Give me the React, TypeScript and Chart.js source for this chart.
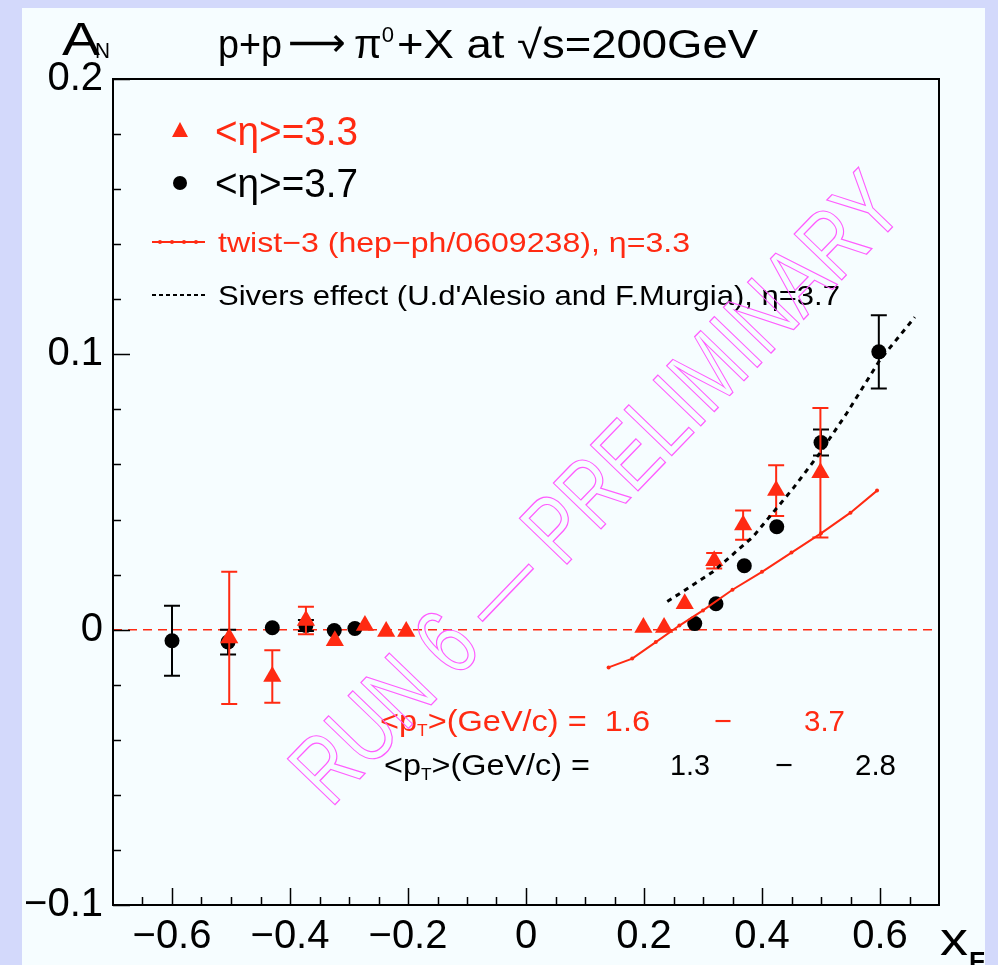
import React, { useEffect, useRef } from 'react';
import { Chart, registerables } from 'chart.js';

Chart.register(...registerables);

// ---------- data ----------
// <eta> = 3.3 (red triangles)
const triX = [-0.503, -0.43, -0.373, -0.324, -0.273, -0.237, -0.203, 0.199, 0.234, 0.269, 0.319, 0.368, 0.424, 0.499];
const triY = [-0.003, -0.017, 0.0033, -0.004, 0.0015, -0.0007, -0.0007, 0.0008, 0.0008, 0.0094, 0.025, 0.038, 0.0505, 0.057];
const triErr = [0.024, 0.0095, 0.005, 0, 0, 0, 0, 0, 0, 0, 0.0028, 0.0053, 0.0092, 0.0235];

// <eta> = 3.7 (black circles)
const circX = [-0.6, -0.505, -0.43, -0.373, -0.325, -0.29, 0.286, 0.322, 0.37, 0.425, 0.5, 0.598];
const circY = [-0.004, -0.0045, 0.0007, 0.0015, -0.0003, 0.0004, 0.0022, 0.0094, 0.0232, 0.0374, 0.068, 0.1009];
const circErr = [0.0127, 0.0045, 0, 0.002, 0, 0, 0, 0, 0, 0, 0.0047, 0.0133];

// twist-3 curve (hep-ph/0609238), eta = 3.3
const twistX = [0.14, 0.18, 0.22, 0.26, 0.3, 0.35, 0.4, 0.45, 0.5, 0.55, 0.595];
const twistY = [-0.0137, -0.0105, -0.0045, 0.0015, 0.007, 0.0145, 0.021, 0.028, 0.035, 0.0425, 0.0505];

// Sivers effect curve, eta = 3.7
const siversX = [0.2395, 0.3175, 0.385, 0.453, 0.498, 0.5436, 0.6, 0.659];
const siversY = [0.0102, 0.0211, 0.0338, 0.0514, 0.0641, 0.0786, 0.098, 0.1135];

// zero reference line
const zeroX = [-0.7, 0.7];
const zeroY = [0, 0];

// axis ticks
const xTickValues = [-0.6, -0.4, -0.2, 0, 0.2, 0.4, 0.6];
const xTickLabels = ['\u22120.6', '\u22120.4', '\u22120.2', '0', '0.2', '0.4', '0.6'];
const yTickValues = [-0.1, 0, 0.1, 0.2];
const yTickLabels = ['\u22120.1', '0', '0.1', '0.2'];

// ---------- styles ----------
const RED = '#ff2a12';
const MAGENTA = '#ff5cff';
const FAMILY = '"Liberation Sans", Arial, Helvetica, sans-serif';

type Part = { s: string; size: number; dy?: number; bold?: boolean; family?: string };

function rich(ctx: CanvasRenderingContext2D, parts: Part[], x: number, y: number, color: string, target?: number) {
  ctx.save();
  ctx.fillStyle = color;
  ctx.textBaseline = 'alphabetic';
  ctx.textAlign = 'left';
  let total = 0;
  const fontOf = (p: Part) => `${p.bold ? 'bold ' : ''}${p.size}px ${p.family || FAMILY}`;
  const widths = parts.map((p) => {
    ctx.font = fontOf(p);
    const w = ctx.measureText(p.s).width;
    total += w;
    return w;
  });
  const sx = target ? target / total : 1;
  ctx.translate(x, y);
  ctx.scale(sx, 1);
  let cx = 0;
  parts.forEach((p, i) => {
    ctx.font = fontOf(p);
    ctx.fillText(p.s, cx, p.dy || 0);
    cx += widths[i];
  });
  ctx.restore();
}

const bgPlugin = {
  id: 'bgPanel',
  beforeDraw(chart: any) {
    const ctx = chart.ctx;
    ctx.save();
    ctx.fillStyle = '#d3d9fb';
    ctx.fillRect(0, 0, chart.width, chart.height);
    ctx.fillStyle = '#f6fdff';
    ctx.fillRect(22, 8, 963, chart.height - 8);
    ctx.restore();
  },
};

const errPlugin = {
  id: 'errBars',
  beforeDatasetDraw(chart: any, args: any) {
    const ds = chart.data.datasets[args.index];
    if (!ds.yErr) return;
    const ctx = chart.ctx;
    const xs = chart.scales.x;
    const ys = chart.scales.y;
    ctx.save();
    ctx.strokeStyle = ds.errColor;
    ctx.lineWidth = 2;
    ds.data.forEach((p: any, i: number) => {
      const e = ds.yErr[i];
      if (!e) return;
      const px = xs.getPixelForValue(p.x);
      const top = ys.getPixelForValue(p.y + e);
      const bot = ys.getPixelForValue(p.y - e);
      ctx.beginPath();
      ctx.moveTo(px, top);
      ctx.lineTo(px, bot);
      ctx.moveTo(px - 8, top);
      ctx.lineTo(px + 8, top);
      ctx.moveTo(px - 8, bot);
      ctx.lineTo(px + 8, bot);
      ctx.stroke();
    });
    ctx.restore();
  },
};

const framePlugin = {
  id: 'frameTicks',
  afterDatasetsDraw(chart: any) {
    const ctx = chart.ctx;
    const { left, right, top, bottom } = chart.chartArea;
    const xs = chart.scales.x;
    const ys = chart.scales.y;
    ctx.save();
    ctx.strokeStyle = '#000';
    ctx.lineWidth = 2;
    ctx.strokeRect(left, top, right - left, bottom - top);
    ctx.lineWidth = 1.5;
    ctx.beginPath();
    for (let k = -13; k <= 13; k++) {
      const v = k * 0.05;
      const px = Math.round(xs.getPixelForValue(v)) + 0.5;
      const major = k % 4 === 0;
      const len = major ? 17 : 8;
      ctx.moveTo(px, bottom);
      ctx.lineTo(px, bottom - len);
    }
    for (let k = -5; k <= 10; k++) {
      const v = k * 0.02;
      const py = Math.round(ys.getPixelForValue(v)) + 0.5;
      const major = k % 5 === 0;
      const len = major ? 17 : 8;
      ctx.moveTo(left, py);
      ctx.lineTo(left + len, py);
    }
    ctx.stroke();
    ctx.restore();
  },
};

const textPlugin = {
  id: 'texts',
  afterDraw(chart: any) {
    const ctx: CanvasRenderingContext2D = chart.ctx;
    // title
    rich(ctx, [{ s: 'p+p', size: 40 }], 218, 58, '#000', 64);
    rich(ctx, [{ s: '\u27f6', size: 40, family: '"DejaVu Sans", sans-serif' }], 288, 56, '#000', 58);
    rich(ctx, [{ s: '\u03c0', size: 40 }, { s: '0', size: 22, dy: -16 }], 354, 58, '#000', 40);
    rich(ctx, [{ s: '+X at \u221as=200GeV', size: 40 }], 397, 58, '#000', 361);
    // A_N
    rich(ctx, [{ s: 'A', size: 46 }], 62, 55, '#000', 38);
    rich(ctx, [{ s: 'N', size: 22 }], 95, 58, '#000', 15);
    // x_F
    rich(ctx, [{ s: 'x', size: 46 }], 940, 955, '#000', 28);
    rich(ctx, [{ s: 'F', size: 26, bold: true }], 969, 970, '#000', 16);

    // legend
    ctx.save();
    ctx.fillStyle = RED;
    ctx.beginPath();
    ctx.moveTo(180, 122);
    ctx.lineTo(188, 137);
    ctx.lineTo(172, 137);
    ctx.closePath();
    ctx.fill();
    ctx.fillStyle = '#000';
    ctx.beginPath();
    ctx.arc(180, 183, 7, 0, Math.PI * 2);
    ctx.fill();
    ctx.strokeStyle = RED;
    ctx.lineWidth = 2;
    ctx.beginPath();
    ctx.moveTo(152, 242);
    ctx.lineTo(205, 242);
    ctx.stroke();
    ctx.fillStyle = RED;
    [160, 172, 184, 196].forEach((x) => { ctx.beginPath(); ctx.arc(x, 242, 2, 0, Math.PI * 2); ctx.fill(); });
    ctx.strokeStyle = '#000';
    ctx.setLineDash([4, 3]);
    ctx.beginPath();
    ctx.moveTo(152, 295);
    ctx.lineTo(205, 295);
    ctx.stroke();
    ctx.restore();

    rich(ctx, [{ s: '<\u03b7>=3.3', size: 40 }], 215, 145, RED, 143);
    rich(ctx, [{ s: '<\u03b7>=3.7', size: 40 }], 215, 197, '#000', 143);
    rich(ctx, [{ s: 'twist\u22123 (hep\u2212ph/0609238), \u03b7=3.3', size: 28 }], 218, 252, RED, 472);
    rich(ctx, [{ s: "Sivers effect (U.d'Alesio and F.Murgia), \u03b7=3.7", size: 28 }], 218, 305, '#000', 622);

    // pT ranges
    rich(ctx, [
      { s: '<p', size: 30 },
      { s: 'T', size: 16, dy: 5 },
      { s: '>(GeV/c) =  1.6', size: 30 },
    ], 380, 731, RED, 270);
    rich(ctx, [{ s: '\u2212', size: 30 }], 714, 731, RED, 18);
    rich(ctx, [{ s: '3.7', size: 30 }], 804, 731, RED, 41);
    rich(ctx, [
      { s: '<p', size: 30 },
      { s: 'T', size: 16, dy: 5 },
      { s: '>(GeV/c) =', size: 30 },
    ], 384, 775, '#000', 206);
    rich(ctx, [{ s: '1.3', size: 30 }], 670, 775, '#000', 40);
    rich(ctx, [{ s: '\u2212', size: 30 }], 775, 775, '#000', 18);
    rich(ctx, [{ s: '2.8', size: 30 }], 855, 775, '#000', 41);

    // watermark
    ctx.save();
    ctx.translate(600, 492);
    ctx.rotate((-46 * Math.PI) / 180);
    ctx.font = `96px ${FAMILY}`;
    const wm = 'RUN 6 \u2014 PRELIMINARY';
    const w = ctx.measureText(wm).width;
    ctx.scale(830 / w, 1);
    ctx.textAlign = 'center';
    ctx.textBaseline = 'middle';
    ctx.strokeStyle = MAGENTA;
    ctx.lineWidth = 1.3;
    ctx.strokeText(wm, 0, 0);
    ctx.restore();
  },
};

export default function App() {
  const ref = useRef<HTMLCanvasElement | null>(null);
  useEffect(() => {
    if (!ref.current) return;
    const pts = (xs: number[], ys: number[]) => xs.map((x, i) => ({ x, y: ys[i] }));
    const chart = new Chart(ref.current, {
      type: 'scatter',
      data: {
        datasets: [
          {
            label: 'Sivers effect',
            data: pts(siversX, siversY),
            showLine: true,
            borderColor: '#000',
            borderWidth: 3,
            borderDash: [5, 5],
            pointRadius: 0,
            order: 1,
          } as any,
          {
            label: 'twist-3',
            data: pts(twistX, twistY),
            showLine: true,
            borderColor: RED,
            borderWidth: 2,
            pointRadius: 2,
            pointBackgroundColor: RED,
            pointBorderWidth: 0,
            order: 2,
          } as any,
          {
            label: '<eta>=3.3',
            data: pts(triX, triY),
            pointStyle: 'triangle',
            pointRadius: 10.5,
            backgroundColor: RED,
            borderColor: RED,
            borderWidth: 0,
            order: 3,
            yErr: triErr,
            errColor: RED,
          } as any,
          {
            label: '<eta>=3.7',
            data: pts(circX, circY),
            pointStyle: 'circle',
            pointRadius: 7.5,
            backgroundColor: '#000',
            borderColor: '#000',
            borderWidth: 0,
            order: 4,
            yErr: circErr,
            errColor: '#000',
          } as any,
          {
            label: 'zero',
            data: pts(zeroX, zeroY),
            showLine: true,
            borderColor: RED,
            borderWidth: 1.5,
            borderDash: [9, 6],
            pointRadius: 0,
            order: 5,
          } as any,
        ],
      },
      options: {
        responsive: false,
        animation: false,
        events: [],
        layout: { padding: { left: 0, top: 79, right: 59, bottom: 0 } },
        plugins: {
          legend: { display: false },
          tooltip: { enabled: false },
          title: { display: false },
        },
        scales: {
          x: {
            type: 'linear',
            min: -0.7,
            max: 0.7,
            grid: { display: false },
            border: { display: false },
            afterBuildTicks: (s: any) => { s.ticks = xTickValues.map((v) => ({ value: v })); },
            afterFit: (s: any) => { s.height = 60; },
            ticks: {
              padding: 0,
              color: '#000',
              font: { family: FAMILY, size: 40 },
              maxRotation: 0,
              autoSkip: false,
              callback: (_v: any, i: number) => xTickLabels[i],
            },
          },
          y: {
            type: 'linear',
            min: -0.1,
            max: 0.2,
            grid: { display: false },
            border: { display: false },
            afterBuildTicks: (s: any) => { s.ticks = yTickValues.map((v) => ({ value: v })); },
            afterFit: (s: any) => { s.width = 113; },
            ticks: {
              padding: 2,
              color: '#000',
              font: { family: FAMILY, size: 40 },
              autoSkip: false,
              callback: (_v: any, i: number) => yTickLabels[i],
            },
          },
        },
      } as any,
      plugins: [bgPlugin, errPlugin, framePlugin, textPlugin],
    });
    return () => chart.destroy();
  }, []);
  return (
    <div style={{ position: 'fixed', left: 0, top: 0, width: 998, height: 965 }}>
      <canvas ref={ref} width={998} height={965} style={{ display: 'block' }} />
    </div>
  );
}
